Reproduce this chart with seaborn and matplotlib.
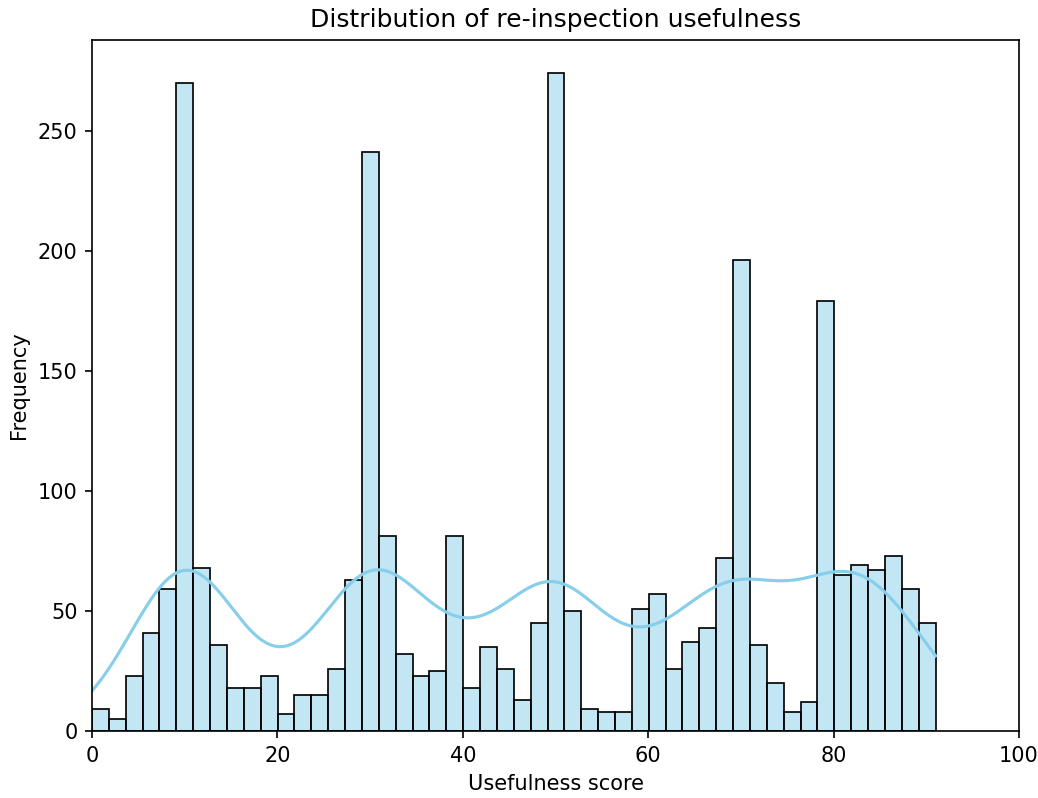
import numpy as np
import pandas as pd
import matplotlib
matplotlib.use("Agg")
import matplotlib.pyplot as plt
import seaborn as sns

# Histogram bin counts (50 bins spanning 0 to 91)
bin_lo = 0
bin_hi = 91
n_bins = 50
counts = [9, 5, 23, 41, 59, 270, 68, 36, 18, 18,
          23, 7, 15, 15, 26, 63, 241, 81, 32, 23,
          25, 81, 18, 35, 26, 13, 45, 274, 50, 9,
          8, 8, 51, 57, 26, 37, 43, 72, 196, 36,
          20, 8, 12, 179, 65, 69, 67, 73, 59, 45]

# Scores are whole numbers: spread each bin's count over the integers it holds
edges = np.linspace(bin_lo, bin_hi, n_bins + 1)
values = []
for i, c in enumerate(counts):
    lo, hi = edges[i], edges[i + 1]
    ints = [k for k in range(bin_lo, bin_hi + 1)
            if (k >= lo - 1e-9) and (k < hi - 1e-9 or (i == n_bins - 1 and k <= hi + 1e-9))]
    share = np.full(len(ints), c // len(ints))
    share[: c % len(ints)] += 1
    for k, s in zip(ints, share):
        values.extend([k] * int(s))
df = pd.DataFrame({"Usefulness score": np.array(values, dtype=float)})

dpi = 150
fig = plt.figure(figsize=(1038 / dpi, 798 / dpi), dpi=dpi)
ax = fig.add_axes([92 / 1038, 1 - 731 / 798, (1019 - 92) / 1038, (731 - 40) / 798])
sns.histplot(data=df, x="Usefulness score", bins=n_bins, binrange=(bin_lo, bin_hi),
             kde=True, color="skyblue", edgecolor="black", ax=ax)
ax.set_xlim(0, 100)
ax.set_title("Distribution of re-inspection usefulness")
ax.set_xlabel("Usefulness score")
ax.set_ylabel("Frequency")
fig.savefig("out.png", dpi=dpi)
